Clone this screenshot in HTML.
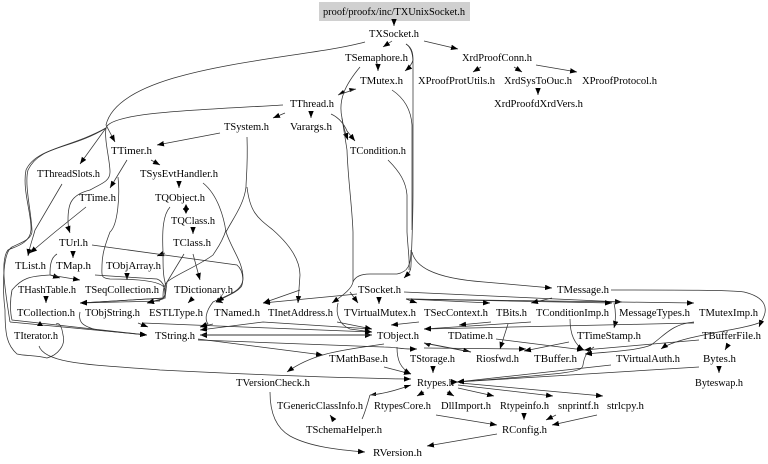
<!DOCTYPE html>
<html><head><meta charset="utf-8"><style>
html,body{margin:0;padding:0;background:#fff}
svg{display:block;filter:blur(.3px)}
text{font-family:"Liberation Serif",serif;font-size:10.5px;fill:#000}
path{fill:none;stroke:#333;stroke-width:.75}
</style></head><body>
<svg width="768" height="464" viewBox="0 0 768 464" xmlns="http://www.w3.org/2000/svg">
<defs>
<marker id="a" markerUnits="userSpaceOnUse" markerWidth="8" markerHeight="6" refX="7" refY="3" orient="auto"><polygon points="0,0.3 7,3 0,5.7" fill="#000"/></marker>
</defs>
<rect x="319" y="2" width="151" height="19" fill="#d0d0d0"/>
<g marker-end="url(#a)">
<path d="M394 21V26"/>
<path d="M392 41L383 47"/>
<path d="M424 41L458 49"/>
<path d="M406 44C413 48 413 56 413 60C412 64 410 67 405 71"/>
<path d="M481 67L473 72"/>
<path d="M514 67L522 72"/>
<path d="M536 65L577 72"/>
<path d="M538 89V95"/>
<path d="M378 66V71"/>
<path d="M360 67C345 85 338 100 342 118C343 126 345 132 348 140"/>
<path d="M285 113L273 118"/>
<path d="M311 113V118"/>
<path d="M331 114C340 118 345 126 347 131L355 141"/>
<path d="M283 105C200 110 110 112 106 128L80 164"/>
<path d="M365 42C300 60 120 65 106 125L115 142"/>
<path d="M220 133L157 145"/>
<path d="M151 160L160 165"/>
<path d="M127 160L110 188"/>
<path d="M179 182V188"/>
<path d="M193 228V234"/>
<path d="M106 128C104 140 110 160 110 172C110 182 100 184 90 190C70 195 68 205 68 220C68 226 69 230 70 233"/>
<path d="M165 253L157 256"/>
<path d="M193 254L200 280"/>
<path d="M73 253V258"/>
<path d="M62 184L35 230C33 238 30 245 28 256"/>
<path d="M86 207L55 232L30 253"/>
<path d="M50 275L60 278"/>
<path d="M50 275L80 280"/>
<path d="M46 298V303"/>
<path d="M127 275V280"/>
<path d="M160 301L80 303"/>
<path d="M191 300L188 303"/>
<path d="M217 300L223 303"/>
<path d="M247 187C250 213 258 218 273 230C290 245 300 260 300 275L298 303"/>
<path d="M300 290L263 303"/>
<path d="M353 282C352 288 345 294 332 303"/>
<path d="M350 292L358 303"/>
<path d="M357 294L263 303"/>
<path d="M379 299V304"/>
<path d="M138 323L148 327"/>
<path d="M80 312C78 322 82 326 97 330L147 335"/>
<path d="M10 322L147 335"/>
<path d="M213 324L200 327"/>
<path d="M372 329L263 322L200 330"/>
<path d="M143 323L372 332"/>
<path d="M337 322L372 329"/>
<path d="M338 303C335 315 340 325 350 329L372 332"/>
<path d="M198 339L323 355"/>
<path d="M198 340L384 347C395 347 400 349 411 349L417 349"/>
<path d="M424 348L526 349"/>
<path d="M384 344C345 350 315 352 287 372"/>
<path d="M397 347C397 360 400 368 411 374"/>
<path d="M384 367L411 374"/>
<path d="M39 346C45 365 100 365 160 370C260 375 340 378 411 379"/>
<path d="M433 367V373"/>
<path d="M424 392L417 396"/>
<path d="M447 392L454 396"/>
<path d="M458 388L494 396"/>
<path d="M458 385L553 396"/>
<path d="M460 383L603 396"/>
<path d="M333 419L330 415"/>
<path d="M719 367V373"/>
<path d="M728 345L725 350"/>
<path d="M699 340L584 350"/>
<path d="M699 367L457 382"/>
<path d="M611 365L457 382"/>
<path d="M594 347C586 352 584 358 583 365C582 372 575 373 457 382"/>
<path d="M694 322C672 324 665 335 651 345C640 350 610 352 585 354"/>
<path d="M412 252C415 265 430 278 484 282L552 288"/>
<path d="M611 290C680 290 730 290 744 292C765 297 770 308 761 322L759 327"/>
<path d="M761 322C745 330 680 335 661 349"/>
<path d="M404 292L622 302"/>
<path d="M406 299L694 303"/>
<path d="M406 299L612 303"/>
<path d="M406 299L417 303"/>
<path d="M406 299L490 303"/>
<path d="M552 298L531 303"/>
<path d="M614 303C616 312 616 320 614 328"/>
<path d="M411 265C411 272 408 274 404 278"/>
<path d="M491 322L459 325"/>
<path d="M419 322L391 325"/>
<path d="M531 322L424 329"/>
<path d="M694 323L424 329"/>
<path d="M508 324L500 349"/>
<path d="M496 339L584 350"/>
<path d="M569 342L524 351"/>
<path d="M570 319C570 335 575 345 584 350"/>
<path d="M436 415L497 425"/>
<path d="M524 414V420"/>
<path d="M556 415L546 420"/>
<path d="M597 415L552 425"/>
<path d="M497 434L427 446"/>
<path d="M270 392C270 412 276 428 290 436C310 447 340 450 365 452"/>
<path d="M226 230C222 243 216 250 213 255C200 265 175 275 167 282C163 287 163 292 163 299L147 303"/>
<path d="M170 207C163 215 162 230 163 252C163 265 163 275 165 282C167 292 165 298 160 300L147 303"/>
<path d="M102 265C102 275 100 278 110 279C130 279 165 280 165 290L165 298L80 303"/>
<path d="M184 254L167 282L165 298L80 303"/>
<path d="M95 275L157 279C165 282 165 290 165 298L147 303"/>
<path d="M203 183C218 195 224 218 226 232C232 250 243 262 243 278C243 292 225 296 213 302C205 312 205 320 208 324L200 327"/>
<path d="M92 245L237 265C245 272 243 285 241 287C235 294 225 296 217 302"/>
<path d="M57 254C50 258 50 268 50 275C30 276 22 278 12 290C10 300 10 312 12 320L147 335"/>
</g>
<path d="M406 44C412 48 413 56 413 64V190C413 220 412 240 411 265"/>
<path d="M392 90C404 98 411 110 412 125V230"/>
<path d="M388 160C400 172 406 182 407 195V232C408 250 410 262 409 270"/>
<path d="M347 150C348 180 352 205 353 232V282"/>
<path d="M342 118L347 150"/>
<path d="M353 282C355 277 360 274 370 274H397C408 272 411 265 411 250"/>
<path d="M118 177C120 195 118 225 110 232C105 245 102 255 102 265"/>
<path d="M247 137C248 165 246 180 246 187C244 205 232 220 226 232"/>
<path d="M106 128C70 150 40 145 28 170C24 185 32 215 32 232C31 240 20 243 12 247C3 252 2 285 5 310C5 335 7 345 17 354C25 356 35 355 47 358C58 355 66 345 63 335C62 328 60 322 56 324"/>
<path d="M106 128C70 148 36 148 26 170C22 190 32 215 31 230C30 244 14 247 8 250C0 260 5 290 10 322"/>
<polygon points="40,321 37,326 43,326" fill="#000"/>
<polygon points="338,95 345,93 343,90" fill="#000"/>
<polygon points="356,89 349,88 350,92" fill="#000"/>
<path d="M338 95L356 89"/>
<polygon points="186,204 183,210 189,210" fill="#000"/>
<polygon points="186,214 183,208 189,208" fill="#000"/>
<polygon points="200,335 207,332 207,338" fill="#000"/>
<polygon points="372,335 365,332 365,338" fill="#000"/>
<path d="M200 335H372" style="stroke-width:1"/>
<polygon points="424,343 431,343 429,347" fill="#000"/>
<polygon points="471,352 464,348 463,352" fill="#000"/>
<path d="M424 343L471 352" style="stroke-width:1"/>
<polygon points="370,395 376,392 376,396" fill="#000"/>
<path d="M362 419C365 413 367 405 370 395"/>
<path d="M370 395C385 394 400 389 411 385"/>
<polygon points="411,385 404,385 405,389" fill="#000"/>
<polygon points="458,382 451,379 451,385" fill="#000"/>
<g>
<text x="323" y="15" textLength="142" lengthAdjust="spacingAndGlyphs">proof/proofx/inc/TXUnixSocket.h</text>
<text x="369" y="37" textLength="50" lengthAdjust="spacingAndGlyphs">TXSocket.h</text>
<text x="345" y="61" textLength="63" lengthAdjust="spacingAndGlyphs">TSemaphore.h</text>
<text x="462" y="61" textLength="70" lengthAdjust="spacingAndGlyphs">XrdProofConn.h</text>
<text x="360" y="84" textLength="43" lengthAdjust="spacingAndGlyphs">TMutex.h</text>
<text x="418" y="84" textLength="77" lengthAdjust="spacingAndGlyphs">XProofProtUtils.h</text>
<text x="504" y="84" textLength="68" lengthAdjust="spacingAndGlyphs">XrdSysToOuc.h</text>
<text x="582" y="84" textLength="75" lengthAdjust="spacingAndGlyphs">XProofProtocol.h</text>
<text x="290" y="107" textLength="44" lengthAdjust="spacingAndGlyphs">TThread.h</text>
<text x="494" y="107" textLength="89" lengthAdjust="spacingAndGlyphs">XrdProofdXrdVers.h</text>
<text x="224" y="130" textLength="45" lengthAdjust="spacingAndGlyphs">TSystem.h</text>
<text x="290" y="130" textLength="42" lengthAdjust="spacingAndGlyphs">Varargs.h</text>
<text x="111" y="154" textLength="41" lengthAdjust="spacingAndGlyphs">TTimer.h</text>
<text x="350" y="154" textLength="56" lengthAdjust="spacingAndGlyphs">TCondition.h</text>
<text x="37" y="177" textLength="63" lengthAdjust="spacingAndGlyphs">TThreadSlots.h</text>
<text x="140" y="177" textLength="78" lengthAdjust="spacingAndGlyphs">TSysEvtHandler.h</text>
<text x="79" y="201" textLength="37" lengthAdjust="spacingAndGlyphs">TTime.h</text>
<text x="155" y="201" textLength="50" lengthAdjust="spacingAndGlyphs">TQObject.h</text>
<text x="171" y="224" textLength="44" lengthAdjust="spacingAndGlyphs">TQClass.h</text>
<text x="59" y="246" textLength="29" lengthAdjust="spacingAndGlyphs">TUrl.h</text>
<text x="173" y="246" textLength="38" lengthAdjust="spacingAndGlyphs">TClass.h</text>
<text x="15" y="269" textLength="31" lengthAdjust="spacingAndGlyphs">TList.h</text>
<text x="56" y="269" textLength="35" lengthAdjust="spacingAndGlyphs">TMap.h</text>
<text x="106" y="269" textLength="55" lengthAdjust="spacingAndGlyphs">TObjArray.h</text>
<text x="18" y="293" textLength="58" lengthAdjust="spacingAndGlyphs">THashTable.h</text>
<text x="85" y="293" textLength="74" lengthAdjust="spacingAndGlyphs">TSeqCollection.h</text>
<text x="174" y="293" textLength="59" lengthAdjust="spacingAndGlyphs">TDictionary.h</text>
<text x="358" y="293" textLength="43" lengthAdjust="spacingAndGlyphs">TSocket.h</text>
<text x="557" y="293" textLength="52" lengthAdjust="spacingAndGlyphs">TMessage.h</text>
<text x="17" y="316" textLength="58" lengthAdjust="spacingAndGlyphs">TCollection.h</text>
<text x="85" y="316" textLength="55" lengthAdjust="spacingAndGlyphs">TObjString.h</text>
<text x="149" y="316" textLength="54" lengthAdjust="spacingAndGlyphs">ESTLType.h</text>
<text x="214" y="316" textLength="46" lengthAdjust="spacingAndGlyphs">TNamed.h</text>
<text x="268" y="316" textLength="65" lengthAdjust="spacingAndGlyphs">TInetAddress.h</text>
<text x="344" y="316" textLength="72" lengthAdjust="spacingAndGlyphs">TVirtualMutex.h</text>
<text x="424" y="316" textLength="64" lengthAdjust="spacingAndGlyphs">TSecContext.h</text>
<text x="496" y="316" textLength="31" lengthAdjust="spacingAndGlyphs">TBits.h</text>
<text x="536" y="316" textLength="73" lengthAdjust="spacingAndGlyphs">TConditionImp.h</text>
<text x="619" y="316" textLength="71" lengthAdjust="spacingAndGlyphs">MessageTypes.h</text>
<text x="699" y="316" textLength="59" lengthAdjust="spacingAndGlyphs">TMutexImp.h</text>
<text x="14" y="339" textLength="44" lengthAdjust="spacingAndGlyphs">TIterator.h</text>
<text x="155" y="339" textLength="40" lengthAdjust="spacingAndGlyphs">TString.h</text>
<text x="377" y="339" textLength="42" lengthAdjust="spacingAndGlyphs">TObject.h</text>
<text x="448" y="339" textLength="45" lengthAdjust="spacingAndGlyphs">TDatime.h</text>
<text x="577" y="339" textLength="64" lengthAdjust="spacingAndGlyphs">TTimeStamp.h</text>
<text x="702" y="339" textLength="59" lengthAdjust="spacingAndGlyphs">TBufferFile.h</text>
<text x="329" y="362" textLength="59" lengthAdjust="spacingAndGlyphs">TMathBase.h</text>
<text x="410" y="362" textLength="45" lengthAdjust="spacingAndGlyphs">TStorage.h</text>
<text x="476" y="362" textLength="43" lengthAdjust="spacingAndGlyphs">Riosfwd.h</text>
<text x="534" y="362" textLength="43" lengthAdjust="spacingAndGlyphs">TBuffer.h</text>
<text x="616" y="362" textLength="64" lengthAdjust="spacingAndGlyphs">TVirtualAuth.h</text>
<text x="703" y="362" textLength="33" lengthAdjust="spacingAndGlyphs">Bytes.h</text>
<text x="236" y="386" textLength="74" lengthAdjust="spacingAndGlyphs">TVersionCheck.h</text>
<text x="417" y="386" textLength="37" lengthAdjust="spacingAndGlyphs">Rtypes.h</text>
<text x="695" y="386" textLength="48" lengthAdjust="spacingAndGlyphs">Byteswap.h</text>
<text x="277" y="409" textLength="86" lengthAdjust="spacingAndGlyphs">TGenericClassInfo.h</text>
<text x="374" y="409" textLength="57" lengthAdjust="spacingAndGlyphs">RtypesCore.h</text>
<text x="441" y="409" textLength="50" lengthAdjust="spacingAndGlyphs">DllImport.h</text>
<text x="500" y="409" textLength="49" lengthAdjust="spacingAndGlyphs">Rtypeinfo.h</text>
<text x="558" y="409" textLength="41" lengthAdjust="spacingAndGlyphs">snprintf.h</text>
<text x="607" y="409" textLength="37" lengthAdjust="spacingAndGlyphs">strlcpy.h</text>
<text x="306" y="433" textLength="76" lengthAdjust="spacingAndGlyphs">TSchemaHelper.h</text>
<text x="502" y="433" textLength="45" lengthAdjust="spacingAndGlyphs">RConfig.h</text>
<text x="373" y="456" textLength="49" lengthAdjust="spacingAndGlyphs">RVersion.h</text>
</g>
</svg>
</body></html>
